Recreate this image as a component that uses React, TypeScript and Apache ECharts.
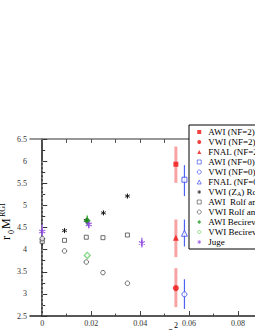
import React, { useEffect, useRef } from "react";
import * as echarts from "echarts";

// ---- data ----
const xMajorTicks = [0, 0.02, 0.04, 0.06, 0.08, 0.1];
const xMinorTicks = [0.01, 0.03, 0.05, 0.07, 0.09];
const xTopTicks = [0, 0.01, 0.02, 0.03, 0.04, 0.05, 0.06, 0.07, 0.08, 0.09, 0.1];

// NF=2 (red) at a^2 = 0.0546
const nf2A2 = 0.0546;
const awiNf2 = [5.93, 5.51, 6.33]; // value, lo, hi
const vwiNf2 = [3.13, 2.70, 3.58];
const fnalNf2 = [4.27, 3.83, 4.68];

// NF=0 (blue) at a^2 = 0.0581
const nf0A2 = 0.0581;
const awiNf0 = [5.58, 5.21, 5.91];
const vwiNf0 = [2.99, 2.66, 3.33];
const fnalNf0 = [4.37, 4.07, 4.68];

// Rolf and Sint
const rsA2 = [0, 0.0091, 0.018, 0.0248, 0.0348];
const awiRolf = [4.18, 4.21, 4.28, 4.27, 4.33];
const vwiRolf = [4.25, 3.97, 3.72, 3.48, 3.24];
const zaA2 = [0, 0.0091, 0.018, 0.025, 0.0348];
const vwiZa = [4.2, 4.43, 4.66, 4.83, 5.21];
const vwiZaLo = [4.07, 4.38, 4.61, 4.78, 5.16];
const vwiZaHi = [4.32, 4.48, 4.71, 4.88, 5.26];

// Becirevic
const becA2 = [0.0184];
const awiBec = [4.65];
const awiBecLo = [4.55];
const awiBecHi = [4.77];
const vwiBec = [3.87];

// Juge
const jugeA2 = [0, 0.019, 0.0407];
const juge = [4.41, 4.57, 4.15];
const jugeLo = [4.27, 4.48, 4.05];
const jugeHi = [4.57, 4.68, 4.27];

const vLine = [[0, 6], [0, 2.5]];

const FONT = "Liberation Serif";
const STAR = "path://M0,-1L0,1M-0.87,-0.5L0.87,0.5M-0.87,0.5L0.87,-0.5";
const ZA_NAME = "VWI (ZA) Rolf and Sint";

const names = [
  "AWI (NF=2)", "VWI (NF=2)", "FNAL (NF=2)",
  "AWI (NF=0)", "VWI (NF=0)", "FNAL (NF=0)",
  ZA_NAME, "AWI  Rolf and Sint", "VWI Rolf and Sint",
  "AWI Becirevic et al", "VWI Becirevic et al", "Juge",
];

function errSeries(pts: number[][], color: string, width: number) {
  return {
    type: "custom",
    xAxisIndex: 0,
    yAxisIndex: 0,
    z: 1,
    silent: true,
    data: pts,
    renderItem: (params: any, api: any) => {
      const p1 = api.coord([api.value(0), api.value(1)]);
      const p2 = api.coord([api.value(0), api.value(2)]);
      return {
        type: "line",
        shape: { x1: p1[0], y1: p1[1], x2: p2[0], y2: p2[1] },
        style: { stroke: color, lineWidth: width },
      };
    },
  };
}

function sc(name: string, data: number[][], symbol: string, size: number, itemStyle: any) {
  return {
    type: "scatter",
    name,
    xAxisIndex: 0,
    yAxisIndex: 0,
    z: 3,
    data,
    symbol,
    symbolSize: size,
    itemStyle,
  };
}

export default function App() {
  const ref = useRef<HTMLDivElement>(null);
  useEffect(() => {
    if (!ref.current) return;
    const chart = echarts.init(ref.current, null, { renderer: "svg" });
    const red = "#ee1111";
    const blue = "#3344ee";
    const gray = "#4a4a4a";
    const green = "#1f9a1f";
    const lgreen = "#55cc55";
    const purple = "#8a3ee0";
    const option: any = {
      animation: false,
      backgroundColor: "#ffffff",
      grid: { left: 30, top: 139, width: 257, height: 177, containLabel: false },
      xAxis: [
        {
          type: "value", min: -0.005, max: 0.1, position: "bottom",
          axisLine: { show: true, lineStyle: { color: "#222", width: 1.5 } },
          axisTick: { show: true, inside: true, length: 5, customValues: xMajorTicks, lineStyle: { color: "#444" } },
          axisLabel: { show: true, customValues: xMajorTicks, fontSize: 8, fontFamily: FONT, color: "#333", margin: 3 },
          splitLine: { show: false },
        },
        {
          type: "value", min: -0.005, max: 0.1, position: "bottom",
          axisLine: { show: false },
          axisTick: { show: true, inside: true, length: 2.5, customValues: xMinorTicks, lineStyle: { color: "#444" } },
          axisLabel: { show: false },
          splitLine: { show: false },
        },
        {
          type: "value", min: -0.005, max: 0.1, position: "top",
          axisLine: { show: true, lineStyle: { color: "#777", width: 1.5 } },
          axisTick: { show: true, inside: true, length: 4, customValues: xTopTicks, lineStyle: { color: "#555" } },
          axisLabel: { show: false },
          splitLine: { show: false },
        },
      ],
      yAxis: [
        {
          type: "value", min: 2.5, max: 6.5, interval: 0.5, position: "left",
          axisLine: { show: true, lineStyle: { color: "#111", width: 1.5 } },
          axisTick: { show: true, inside: true, length: 5, lineStyle: { color: "#333" } },
          minorTick: { show: true, splitNumber: 2, length: 3, lineStyle: { color: "#333" } },
          axisLabel: { fontSize: 8, fontFamily: FONT, color: "#333", margin: 3 },
          splitLine: { show: false },
        },
      ],
      legend: {
        data: names,
        orient: "vertical",
        left: 189,
        top: 125,
        itemWidth: 4,
        itemHeight: 4,
        itemGap: 0,
        selectedMode: false,
        backgroundColor: "#fff",
        borderColor: "#000",
        borderWidth: 1,
        borderRadius: 0,
        padding: [2, 30, 2, 6],
        itemStyle: { borderWidth: 0.8 },
        textStyle: { fontSize: 9, fontFamily: FONT, color: "#000", lineHeight: 10, padding: [0, 0, 0, 2],
          rich: {
            n: { fontSize: 9, fontFamily: FONT, color: "#000", lineHeight: 10 },
            s: { fontSize: 6, fontFamily: FONT, color: "#000", lineHeight: 7, verticalAlign: "bottom" },
          },
        },
        formatter: (name: string) => (name === ZA_NAME ? "{n|VWI (Z}{s|A}{n|) Rolf and Sint}" : name),
      },
      graphic: [
        {
          type: "group",
          x: 12,
          y: 240,
          rotation: Math.PI / 2,
          children: [
            { type: "text", x: 0, y: 0, style: { text: "r", font: `12px '${FONT}'`, fill: "#000", verticalAlign: "bottom" } },
            { type: "text", x: 6, y: 3, style: { text: "0", font: `8px '${FONT}'`, fill: "#000", verticalAlign: "bottom" } },
            { type: "text", x: 11, y: 0, style: { text: "M", font: `12px '${FONT}'`, fill: "#000", verticalAlign: "bottom" } },
            { type: "text", x: 23, y: -6, style: { text: "RGI", font: `8px '${FONT}'`, fill: "#000", verticalAlign: "bottom" } },
          ],
        },
        {
          type: "group",
          x: 168,
          y: 324,
          children: [
            { type: "text", x: 0, y: 1, style: { text: "a", font: `12px '${FONT}'`, fill: "#000", verticalAlign: "top" } },
            { type: "text", x: 6, y: -3, style: { text: "2", font: `8px '${FONT}'`, fill: "#000", verticalAlign: "top" } },
          ],
        },
      ],
      series: [
        {
          type: "line", data: vLine, symbol: "none", silent: true, z: 0,
          lineStyle: { color: "#aaa", width: 1, type: [2, 2] },
        },
        errSeries([[nf2A2, awiNf2[1], awiNf2[2]], [nf2A2, vwiNf2[1], vwiNf2[2]], [nf2A2, fnalNf2[1], fnalNf2[2]]], "#f7a3a3", 3),
        errSeries([[nf0A2, awiNf0[1], awiNf0[2]], [nf0A2, vwiNf0[1], vwiNf0[2]], [nf0A2, fnalNf0[1], fnalNf0[2]]], "#4f63f2", 1.2),
        errSeries(zaA2.map((x, i) => [x, vwiZaLo[i], vwiZaHi[i]]), "#222", 1),
        errSeries(becA2.map((x, i) => [x, awiBecLo[i], awiBecHi[i]]), "#3fae3f", 1.5),
        errSeries(jugeA2.map((x, i) => [x, jugeLo[i], jugeHi[i]]), "#a77ae8", 1.5),
        sc(names[0], [[nf2A2, awiNf2[0]]], "rect", 5, { color: red }),
        sc(names[1], [[nf2A2, vwiNf2[0]]], "circle", 6, { color: red }),
        sc(names[2], [[nf2A2, fnalNf2[0]]], "triangle", 6, { color: red }),
        sc(names[3], [[nf0A2, awiNf0[0]]], "rect", 5, { color: "#fff", borderColor: blue, borderWidth: 1 }),
        sc(names[4], [[nf0A2, vwiNf0[0]]], "circle", 5, { color: "#fff", borderColor: blue, borderWidth: 1 }),
        sc(names[5], [[nf0A2, fnalNf0[0]]], "triangle", 6, { color: "#fff", borderColor: blue, borderWidth: 1 }),
        sc(names[6], zaA2.map((x, i) => [x, vwiZa[i]]), STAR, 5, { color: "none", borderColor: "#111", borderWidth: 1 }),
        sc(names[7], rsA2.map((x, i) => [x, awiRolf[i]]), "rect", 4, { color: "#fff", borderColor: gray, borderWidth: 1 }),
        sc(names[8], rsA2.map((x, i) => [x, vwiRolf[i]]), "circle", 4.5, { color: "#fff", borderColor: gray, borderWidth: 1 }),
        sc(names[9], becA2.map((x, i) => [x, awiBec[i]]), "diamond", 7, { color: green }),
        sc(names[10], becA2.map((x, i) => [x, vwiBec[i]]), "diamond", 6, { color: "#fff", borderColor: lgreen, borderWidth: 1.2 }),
        sc(names[11], jugeA2.map((x, i) => [x, juge[i]]), STAR, 6, { color: "none", borderColor: purple, borderWidth: 1.3 }),
      ],
    };
    chart.setOption(option);
    return () => chart.dispose();
  }, []);
  return (
    <div style={{ position: "fixed", left: 0, top: 0, width: 255, height: 330, overflow: "hidden", background: "#fff" }}>
      <div ref={ref} style={{ width: 320, height: 330 }} />
    </div>
  );
}
